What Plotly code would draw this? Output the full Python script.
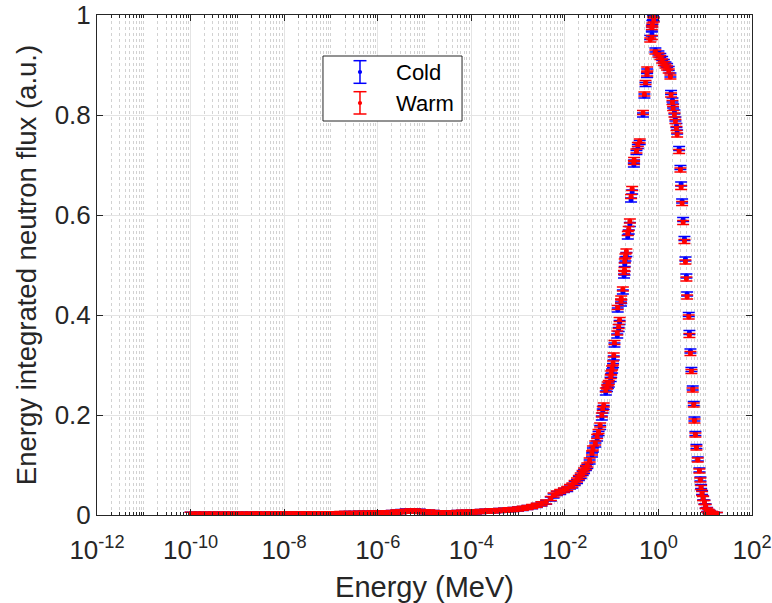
import plotly.graph_objects as go

# ---------------- data ----------------
# log10 of energy (MeV), low-energy part of the spectrum
low_logE = [-10.0, -9.9, -9.8, -9.7, -9.6, -9.5, -9.4, -9.3, -9.2, -9.1,
            -9.0, -8.9, -8.8, -8.7, -8.6, -8.5, -8.4, -8.3, -8.2, -8.1,
            -8.0, -7.9, -7.8, -7.7, -7.6, -7.5, -7.4, -7.3, -7.2, -7.1,
            -7.0, -6.9, -6.8, -6.7, -6.6, -6.5, -6.4, -6.3, -6.2, -6.1,
            -6.0, -5.9, -5.8, -5.7, -5.6, -5.5, -5.4, -5.3, -5.2, -5.1,
            -5.0, -4.9, -4.8, -4.7, -4.6, -4.5, -4.4, -4.3, -4.2, -4.1,
            -4.0, -3.9, -3.8, -3.7, -3.6, -3.5, -3.4, -3.3, -3.2, -3.1,
            -3.0, -2.9, -2.8, -2.7, -2.6, -2.5, -2.4, -2.3]
warm_low = [0.0015, 0.0014, 0.0016, 0.0015, 0.0015, 0.0017, 0.0015, 0.0016, 0.0014, 0.0016,
            0.0016, 0.0015, 0.0017, 0.0016, 0.0018, 0.0016, 0.0017, 0.0018, 0.0016, 0.0019,
            0.0018, 0.0020, 0.0019, 0.0021, 0.0020, 0.0022, 0.0021, 0.0024, 0.0023, 0.0025,
            0.0026, 0.0025, 0.0028, 0.0030, 0.0029, 0.0031, 0.0033, 0.0035, 0.0036, 0.0038,
            0.0040, 0.0042, 0.0045, 0.0050, 0.0058, 0.0066, 0.0074, 0.0080, 0.0078, 0.0072,
            0.0065, 0.0058, 0.0050, 0.0046, 0.0045, 0.0044, 0.0047, 0.0050, 0.0053, 0.0056,
            0.0058, 0.0063, 0.0068, 0.0074, 0.0080, 0.0086, 0.0090, 0.0096, 0.0103, 0.0110,
            0.0120, 0.0135, 0.0150, 0.0170, 0.0195, 0.0225, 0.0260, 0.0330]
cold_low = [0.0014, 0.0015, 0.0015, 0.0016, 0.0014, 0.0016, 0.0016, 0.0015, 0.0015, 0.0017,
            0.0015, 0.0016, 0.0016, 0.0017, 0.0017, 0.0017, 0.0016, 0.0019, 0.0017, 0.0018,
            0.0019, 0.0019, 0.0020, 0.0020, 0.0021, 0.0021, 0.0022, 0.0023, 0.0024, 0.0024,
            0.0027, 0.0026, 0.0027, 0.0031, 0.0030, 0.0032, 0.0034, 0.0034, 0.0037, 0.0039,
            0.0041, 0.0044, 0.0047, 0.0052, 0.0060, 0.0069, 0.0078, 0.0084, 0.0081, 0.0074,
            0.0066, 0.0057, 0.0051, 0.0047, 0.0044, 0.0045, 0.0046, 0.0051, 0.0052, 0.0057,
            0.0060, 0.0062, 0.0070, 0.0073, 0.0082, 0.0084, 0.0092, 0.0095, 0.0105, 0.0108,
            0.0118, 0.0132, 0.0148, 0.0166, 0.0190, 0.0220, 0.0255, 0.0320]

# log10 of energy (MeV), main (fast/peak) part of the spectrum
main_logE = [-2.24, -2.17, -2.10, -2.02, -1.95, -1.89, -1.84, -1.79, -1.74, -1.70,
             -1.66, -1.62, -1.59, -1.55, -1.52, -1.47, -1.42, -1.40, -1.35, -1.31,
             -1.28, -1.245, -1.21, -1.19, -1.17, -1.125, -1.10, -1.08, -1.06, -1.02,
             -1.01, -0.99, -0.97, -0.955, -0.94, -0.88, -0.85, -0.83, -0.87, -0.80,
             -0.795, -0.76, -0.735, -0.725, -0.72, -0.705, -0.685, -0.655, -0.635, -0.61,
             -0.585, -0.562, -0.525, -0.52, -0.47, -0.44, -0.40, -0.33, -0.30, -0.275,
             -0.245, -0.24, -0.175, -0.14, -0.14, -0.13, -0.115, -0.10, -0.065, 0.0,
             0.04, 0.08, 0.115, 0.15, 0.185, 0.22, 0.256, 0.27, 0.30, 0.314,
             0.342, 0.363, 0.385, 0.40, 0.442, 0.47, 0.485, 0.506, 0.528, 0.556,
             0.577, 0.598, 0.613, 0.648, 0.662, 0.684, 0.705, 0.733, 0.755, 0.769,
             0.79, 0.812, 0.84, 0.876, 0.897, 0.912, 0.933, 0.955, 0.983, 1.01,
             1.04, 1.07, 1.096, 1.14, 1.18, 1.25]
warm_main = [0.040, 0.044, 0.047, 0.050, 0.053, 0.057, 0.060, 0.065, 0.070, 0.075,
             0.080, 0.085, 0.090, 0.095, 0.100, 0.110, 0.124, 0.134, 0.144, 0.157,
             0.167, 0.180, 0.200, 0.213, 0.220, 0.250, 0.256, 0.262, 0.265, 0.277,
             0.284, 0.294, 0.304, 0.320, 0.345, 0.364, 0.377, 0.391, 0.415, 0.428,
             0.434, 0.452, 0.485, 0.491, 0.508, 0.518, 0.528, 0.563, 0.573, 0.588,
             0.637, 0.653, 0.705, 0.711, 0.728, 0.741, 0.748, 0.805, 0.842, 0.865,
             0.882, 0.892, 0.950, 0.955, 0.975, 0.980, 1.000, 0.990, 0.926, 0.920,
             0.915, 0.908, 0.903, 0.898, 0.894, 0.888, 0.876, 0.840, 0.825, 0.813,
             0.800, 0.787, 0.773, 0.760, 0.727, 0.690, 0.655, 0.623, 0.585, 0.547,
             0.506, 0.472, 0.436, 0.396, 0.359, 0.323, 0.287, 0.250, 0.220, 0.188,
             0.160, 0.134, 0.110, 0.088, 0.070, 0.055, 0.043, 0.033, 0.025, 0.017,
             0.010, 0.007, 0.005, 0.003, 0.002, 0.001]
cold_main = [0.038, 0.043, 0.045, 0.049, 0.051, 0.056, 0.058, 0.063, 0.067, 0.073,
             0.077, 0.083, 0.087, 0.093, 0.097, 0.106, 0.120, 0.130, 0.140, 0.152,
             0.163, 0.175, 0.194, 0.208, 0.215, 0.244, 0.251, 0.257, 0.260, 0.271,
             0.279, 0.288, 0.299, 0.314, 0.340, 0.358, 0.371, 0.385, 0.410, 0.422,
             0.427, 0.446, 0.478, 0.484, 0.501, 0.512, 0.521, 0.556, 0.566, 0.581,
             0.630, 0.646, 0.700, 0.706, 0.725, 0.737, 0.745, 0.800, 0.838, 0.861,
             0.879, 0.888, 0.955, 0.962, 0.972, 0.985, 0.995, 0.992, 0.930, 0.924,
             0.919, 0.913, 0.907, 0.902, 0.899, 0.893, 0.880, 0.845, 0.830, 0.818,
             0.806, 0.792, 0.779, 0.766, 0.733, 0.695, 0.662, 0.628, 0.591, 0.553,
             0.512, 0.478, 0.442, 0.401, 0.365, 0.328, 0.291, 0.254, 0.223, 0.192,
             0.163, 0.137, 0.112, 0.090, 0.072, 0.057, 0.045, 0.034, 0.026, 0.018,
             0.011, 0.007, 0.005, 0.003, 0.002, 0.001]

flux_err = 0.004  # approx. +/- uncertainty on each point

series_names = ["Cold", "Warm"]
series_colors = ["#0000ff", "#ff0000"]

x_tickvals = [1e-12, 1e-10, 1e-8, 1e-6, 1e-4, 1e-2, 1e0, 1e2]
x_ticktext = ["10<sup>-12</sup>", "10<sup>-10</sup>", "10<sup>-8</sup>", "10<sup>-6</sup>",
              "10<sup>-4</sup>", "10<sup>-2</sup>", "10<sup>0</sup>", "10<sup>2</sup>"]
y_tickvals = [0, 0.2, 0.4, 0.6, 0.8, 1]
y_ticktext = ["0", "0.2", "0.4", "0.6", "0.8", "1"]

# ---------------- figure ----------------
energy = [10 ** v for v in low_logE + main_logE]
series_values = [cold_low + cold_main, warm_low + warm_main]

FONT = "Liberation Sans, Arial, Helvetica, sans-serif"
AX = "#262626"

fig = go.Figure()
for name, yv, col in zip(series_names, series_values, series_colors):
    fig.add_trace(go.Scatter(
        x=energy, y=yv, mode="markers", name=name, showlegend=False,
        marker=dict(color=col, size=5),
        error_y=dict(type="constant", value=flux_err, color=col,
                     thickness=1.5, width=6),
    ))

# --- MATLAB-style legend box with error-bar glyphs (paper coordinates) ---
shapes = [dict(type="rect", xref="paper", yref="paper", x0=0.345, x1=0.5573,
               y0=0.788, y1=0.918, fillcolor="white",
               line=dict(color=AX, width=1), layer="above")]
annotations = []
glyph_x = 0.4015
cap = 0.0099
entry_rows = [(0.8634, 0.9086, 0.886), (0.802, 0.8466, 0.824)]
for (ylo, yhi, yc), name, col in zip(entry_rows, series_names, series_colors):
    shapes.append(dict(type="line", xref="paper", yref="paper", x0=glyph_x, x1=glyph_x,
                       y0=ylo, y1=yhi, line=dict(color=col, width=1.5), layer="above"))
    for yy in (ylo, yhi):
        shapes.append(dict(type="line", xref="paper", yref="paper", x0=glyph_x - cap,
                           x1=glyph_x + cap, y0=yy, y1=yy,
                           line=dict(color=col, width=1.5), layer="above"))
    shapes.append(dict(type="circle", xref="paper", yref="paper",
                       x0=glyph_x - 0.0032, x1=glyph_x + 0.0032, y0=yc - 0.0042, y1=yc + 0.0042,
                       fillcolor=col, line=dict(color=col, width=0), layer="above"))
    annotations.append(dict(xref="paper", yref="paper", x=0.454, y=yc, text=name,
                            showarrow=False, xanchor="left", yanchor="middle",
                            font=dict(family=FONT, size=22, color="black")))

fig.update_layout(
    width=772, height=603,
    margin=dict(l=97, r=20, t=15, b=88),
    paper_bgcolor="white", plot_bgcolor="white",
    font=dict(family=FONT, color=AX, size=26),
    showlegend=False,
    shapes=shapes, annotations=annotations,
)
fig.update_xaxes(
    type="log", range=[-12, 2], automargin=False,
    tickvals=x_tickvals, ticktext=x_ticktext,
    ticks="inside", ticklen=6, tickcolor=AX, tickwidth=1,
    ticklabelstandoff=12,
    showline=True, linecolor=AX, linewidth=1, mirror="ticks",
    showgrid=True, gridcolor="#e4e4e4", gridwidth=1,
    minor=dict(dtick="D1", ticks="inside", ticklen=3, tickcolor=AX,
               showgrid=True, gridcolor="#d2d2d2", griddash="dot", gridwidth=1),
    title=dict(text="Energy (MeV)", font=dict(size=29, color=AX), standoff=12),
    tickfont=dict(size=26, color=AX),
    zeroline=False,
)
fig.update_yaxes(
    range=[0, 1], automargin=False,
    tickvals=y_tickvals, ticktext=y_ticktext,
    ticks="inside", ticklen=6, tickcolor=AX, tickwidth=1,
    showline=True, linecolor=AX, linewidth=1, mirror="ticks",
    showgrid=True, gridcolor="#e4e4e4", gridwidth=1,
    title=dict(text="Energy integrated neutron flux (a.u.)", font=dict(size=27.5, color=AX), standoff=10),
    tickfont=dict(size=26, color=AX),
    zeroline=False,
)

fig.write_html("out.html")
